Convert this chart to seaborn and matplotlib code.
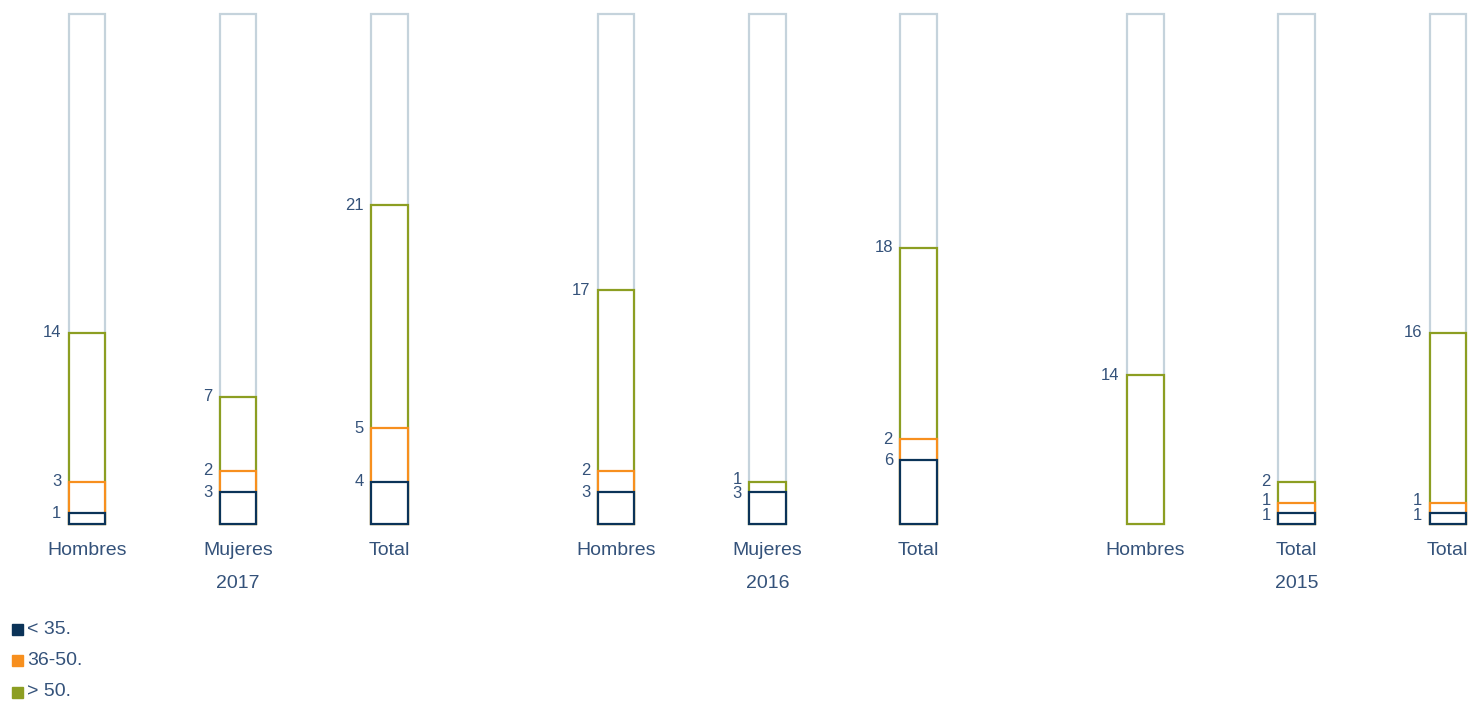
import numpy as np
import pandas as pd
import seaborn as sns
import matplotlib.pyplot as plt
from matplotlib.patches import Rectangle
from matplotlib.transforms import blended_transform_factory

years = ["2017", "2016", "2015"]
bar_labels = ["Hombres", "Mujeres", "Total",
              "Hombres", "Mujeres", "Total",
              "Hombres", "Total", "Total"]
under_35 = [1, 3, 4, 3, 3, 6, 0, 1, 1]
from_36_50 = [3, 2, 5, 2, 0, 2, 0, 1, 1]
over_50 = [14, 7, 21, 17, 1, 18, 14, 2, 16]
full_scale = 48
series_names = ["< 35.", "36-50.", "> 50."]

navy, orange, olive, grey = "#0b3358", "#f78f1e", "#8c9e22", "#c5d3dc"
txt = "#34527a"

sns.set_style("white")
plt.rcParams["font.family"] = ["Liberation Sans", "DejaVu Sans"]

# three bars per year, a wider gap between years
pos = [g * 3.5 + i for g in range(3) for i in range(3)]
df = pd.DataFrame({"pos": pos, "label": bar_labels,
                   "a": under_35, "b": from_36_50, "c": over_50})
df["top_a"] = df["a"]
df["top_b"] = df["a"] + df["b"]
df["top_c"] = df["top_b"] + df["c"]
df["full"] = full_scale

fig = plt.figure(figsize=(14.81, 7.03), dpi=100)
ax = fig.add_axes([0, 179 / 703, 1, 510 / 703])
bw = 0.24
lw = 1.6

layers = [("full", None, grey), ("top_c", "c", olive),
          ("top_b", "b", orange), ("top_a", "a", navy)]
for top_col, seg_col, col in layers:
    d = df if seg_col is None else df[df[seg_col] > 0]
    sns.barplot(data=d, x="pos", y=top_col, native_scale=True, width=bw,
                color="white", edgecolor=col, linewidth=lw, errorbar=None,
                ax=ax, clip_on=False)

# value labels at segment tops, nudged apart when too close
gap = 1.35
for _, r in df.iterrows():
    labs = [(r["top_" + k], int(r[k])) for k in "abc" if r[k] > 0]
    ys = [t for t, _ in labs]
    for _ in range(5):
        for i in range(len(ys) - 1):
            d = ys[i + 1] - ys[i]
            if d < gap:
                m = (ys[i] + ys[i + 1]) / 2
                ys[i], ys[i + 1] = m - gap / 2, m + gap / 2
    for y, (_, v) in zip(ys, labs):
        ax.text(r["pos"] - bw / 2 - 0.05, y, str(v), ha="right", va="center",
                fontsize=12, color=txt)

ax.set_xlim(-87 / 151.2, (1481 - 87) / 151.2)
ax.set_ylim(0, full_scale)
ax.set_xticks(pos, bar_labels, fontsize=14, color=txt)
ax.tick_params(axis="x", length=0, pad=13)
ax.set_yticks([])
ax.set_xlabel("")
ax.set_ylabel("")
sns.despine(ax=ax, left=True, bottom=True)

tr = blended_transform_factory(ax.transData, fig.transFigure)
for g, yr in enumerate(years):
    ax.text(g * 3.5 + 1, 1 - 584 / 703, yr, transform=tr, ha="center",
            va="center", fontsize=14, color=txt)

for i, (name, col) in enumerate(zip(series_names, [navy, orange, olive])):
    yc = 629 + i * 31.5
    fig.add_artist(Rectangle((12 / 1481, 1 - (yc + 5.5) / 703), 11 / 1481, 11 / 703,
                             transform=fig.transFigure, color=col))
    fig.text(27 / 1481, 1 - yc / 703, name, ha="left", va="center",
             fontsize=14, color=txt)

fig.savefig("out.png", dpi=100)
